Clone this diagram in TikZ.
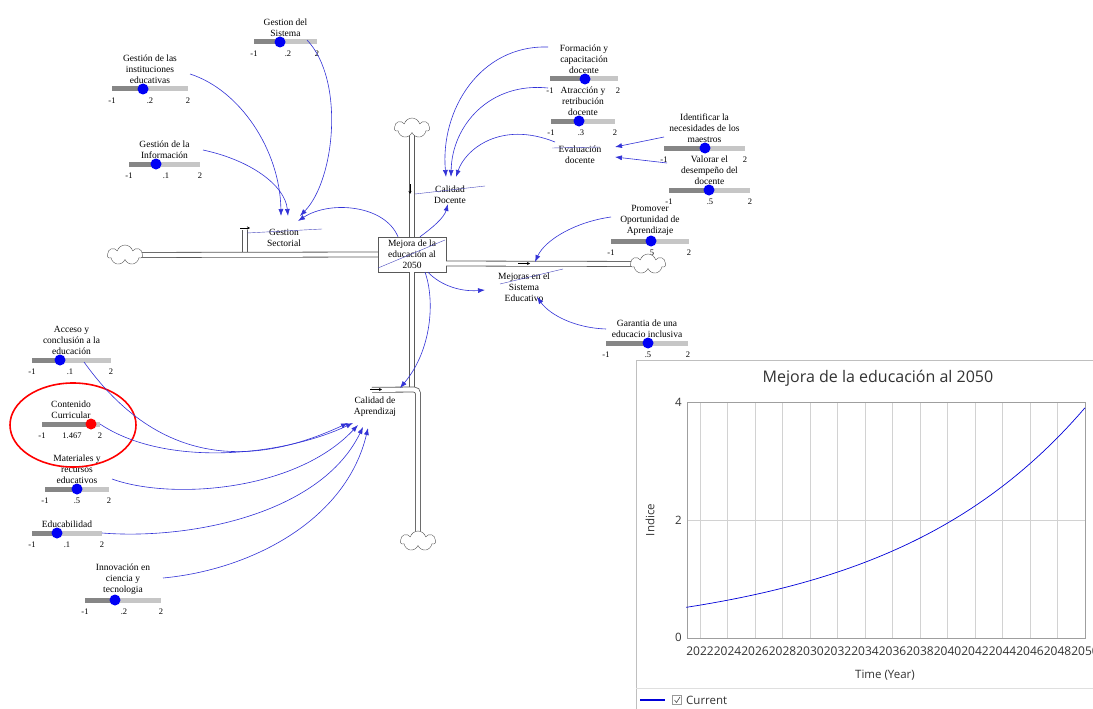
\documentclass[tikz,border=0pt]{standalone}
\usepackage{fontspec}
\setmainfont{Liberation Serif}
\newfontfamily\chartfont{Open Sans}
\usetikzlibrary{arrows.meta,shapes.symbols}
\definecolor{linkblue}{RGB}{50,50,215}
\definecolor{knobblue}{RGB}{0,0,245}
\def\vcloud{node[cloud, cloud puffs=7, aspect=1.8, draw=gray!70!black, fill=white, minimum width=35pt, minimum height=20pt, inner sep=0pt]}
\tikzset{
  vtext/.style={font=\fontsize{9.5}{11}\selectfont, align=center, inner sep=0pt},
  tick/.style={font=\fontsize{8.5}{10}\selectfont, inner sep=0pt},
  knob/.style={circle, inner sep=0pt, minimum size=11pt},
  pipe/.style={draw=gray!70!black, line width=0.8pt, double=white, double distance=4.2pt},
  link/.style={draw=linkblue, line width=0.6pt, -{Latex[length=7pt,width=5pt]}},
  valveline/.style={draw=linkblue!70!gray, line width=0.4pt},
  charttext/.style={font=\chartfont\fontsize{11.5}{13}\selectfont, inner sep=0pt, text=black!80}
}
\begin{document}
\begin{tikzpicture}[x=1pt, y=-1pt]
        \useasboundingbox[fill=white] (0,0) rectangle (1093,709);
        \foreach \n/\xa/\xb/\yy/\kx/\kc/\mv/\mx/\ttl in {
          gsis/254/317/42/280/knobblue/.2/288/{Gestion del\\Sistema},
          ginst/112/188/89/143/knobblue/.2/150/{Gestión de las\\instituciones\\educativas},
          ginf/129/200/164/156/knobblue/.1/166/{Gestión de la\\Información},
          form/550/618/79/585/knobblue/{}/584/{Formación y\\capacitación\\docente},
          atra/551/615/121/579/knobblue/.3/581/{Atracción y\\retribución\\docente},
          iden/664/745/148/705/knobblue/{}/705/{Identificar la\\necesidades de los\\maestros},
          valo/669/750/190/709/knobblue/.5/710/{Valorar el\\desempeño del\\docente},
          prom/611/689/241/651/knobblue/.5/651/{Promover\\Oportunidad de\\Aprendizaje},
          gara/606/688/343/648/knobblue/.5/648/{Garantia de una\\educacio inclusiva},
          acce/32/111/360/60/knobblue/.1/70/{Acceso y\\conclusión a la\\educación},
          cont/42/100/424/91/red/1.467/72/{Contenido\\Curricular},
          mate/45/109/489/77/knobblue/.5/77/{Materiales y\\recursos\\educativos},
          educ/32/102/533/57/knobblue/.1/67/{Educabilidad},
          inno/85/161/600/115/knobblue/.2/124/{Innovación en\\ciencia y\\tecnologia}}{
          \draw[line width=5pt, draw=gray!95] (\xa,\yy) coordinate (\n-L) -- (\kx,\yy);
          \draw[line width=5pt, draw=gray!45] (\kx,\yy) -- (\xb,\yy) coordinate (\n-R);
          \node[knob, fill=\kc] (\n-k) at (\kx,\yy) {};
          \node[vtext, anchor=south] (t-\n) at ({(\xa+\xb)/2},\yy-5) {\ttl};
          \node[tick] (\n-lo) at (\xa,\yy+12) {-1};
          \node[tick] (\n-mid) at (\mx,\yy+12) {\mv};
          \node[tick] (\n-hi) at (\xb,\yy+12) {2};
        }
        \draw[red, line width=1.6pt] (73,425) ellipse [x radius=63pt, y radius=42pt];

        % stock, flows and clouds
        \node[vtext, draw=gray!70!black, fill=white, minimum width=68pt, minimum height=35pt, inner sep=1pt] (mej) at (412,254.5) {Mejora de la\\educación al\\2050};
        \coordinate (gs-v) at (245,230);
        \coordinate (cda-v) at (372,389.8);
        \coordinate (cda-top) at (412,389.5);
        \coordinate (cL) at (125,255);
        \coordinate (cT) at (412,128);
        \coordinate (cR) at (648,264);
        \coordinate (cB) at (418,541);
        \draw[pipe] (gs-v) -- (245,254.5);
        \draw[pipe] (mej.south) -- (cda-top);
        \draw[pipe] (cL) -- (mej.west);
        \draw[pipe] (cT) -- (mej.north);
        \draw[pipe] (cR) -- ([yshift=-9pt]mej.east);
        \draw[pipe, rounded corners=4pt] (cda-v) -- (418,389.5) -- (cB);
        \draw (cL) \vcloud (cloudL) {};
        \draw (cT) \vcloud (cloudT) {};
        \draw (cR) \vcloud (cloudR) {};
        \draw (cB) \vcloud (cloudB) {};
        \draw[line width=0.5pt, -{Stealth[length=3pt,width=3pt]}] (240,228) -- (250,228);
        \draw[line width=0.5pt, -{Stealth[length=3pt,width=3pt]}] (410,184) -- (410,194);
        \draw[line width=0.5pt, -{Stealth[length=3pt,width=3pt]}] (518,263.5) -- (530,263.5);
        \draw[line width=0.5pt, -{Stealth[length=3pt,width=3pt]}] (370,389.5) -- (382,389.5);

        \node[vtext] (gsec) at (284,238) {Gestion\\Sectorial};
        \node[vtext] (cdoc) at (450,195) {Calidad\\Docente};
        \node[vtext] (eval) at (580,155) {Evaluación\\docente};
        \node[vtext] (mse) at (524,287) {Mejoras en el\\Sistema\\Educativo};
        \node[vtext] (cda) at (375,407) {Calidad de\\Aprendizaj};

        \draw[valveline] (247,233) -- (322,229);
        \draw[valveline] (415,194) -- (485,186);
        \draw[valveline] (552,148) -- (600,147);
        \draw[valveline] (500,284) -- (563,269);
        \draw[valveline] (378,268) -- (445,240);

        % connectors
        \draw[link] ([xshift=2pt,yshift=15pt]ginst-R) .. controls (240,90) and (280,150) .. ([xshift=-3pt,yshift=22pt]gsec.center);
        \draw[link] ([xshift=3pt,yshift=14pt]ginf-R) .. controls (250,160) and (285,185) .. ([xshift=4pt,yshift=22pt]gsec.center);
        \draw[link] ([xshift=-10pt,yshift=2pt]gsis-R) .. controls (345,80) and (335,180) .. ([xshift=16pt,yshift=22pt]gsec.center);
        \draw[link] ([xshift=-14pt]mej.north) .. controls (385,205) and (330,200) .. ([xshift=14pt,yshift=17pt]gsec.center);
        \draw[link] ([xshift=-2pt,yshift=32pt]form-L) .. controls (480,45) and (440,110) .. ([xshift=-4pt,yshift=18pt]cdoc.center);
        \draw[link] ([xshift=-3pt,yshift=33pt]atra-L) .. controls (490,82) and (452,125) .. ([xshift=1pt,yshift=18pt]cdoc.center);
        \draw[link] ([xshift=-25pt,yshift=13pt]eval.center) .. controls (500,120) and (465,150) .. ([xshift=6pt,yshift=18pt]cdoc.center);
        \draw[link] ([xshift=8pt]mej.north) .. controls (432,228) and (444,218) .. ([xshift=-2pt,yshift=-9pt]cdoc.center);
        \draw[link] ([yshift=11pt]iden-L) -- ([xshift=35pt,yshift=8pt]eval.center);
        \draw[link] ([xshift=-2pt,yshift=27pt]valo-L) -- ([xshift=35pt,yshift=-2pt]eval.center);
        \draw[link] ([yshift=24pt]prom-L) .. controls (575,222) and (545,240) .. ([xshift=11pt,yshift=25pt]mse.center);
        \draw[link] ([yshift=14pt]gara-L) .. controls (575,328) and (550,315) .. ([xshift=13pt,yshift=-10pt]mse.center);
        \draw[link] ([xshift=16pt]mej.south) .. controls (440,285) and (460,292) .. ([xshift=-39pt,yshift=-3pt]mse.center);
        \draw[link] ([xshift=-27pt,yshift=-2pt]acce-R) .. controls (167,478) and (268,460) .. ([xshift=-27pt,yshift=-16pt]cda.center);
        \draw[link] (cont-R) .. controls (166,468) and (283,456) .. ([xshift=-22pt,yshift=-16pt]cda.center);
        \draw[link] ([xshift=3pt,yshift=10pt]mate-R) .. controls (170,500) and (295,492) .. ([xshift=-17pt,yshift=-18pt]cda.center);
        \draw[link] (educ-R) .. controls (190,540) and (321,514) .. ([xshift=-12pt,yshift=-20pt]cda.center);
        \draw[link] ([xshift=2pt,yshift=22pt]inno-R) .. controls (250,570) and (346,521) .. ([xshift=-7pt,yshift=-21pt]cda.center);
        \draw[link] ([xshift=13pt]mej.south) .. controls (435,300) and (432,350) .. ([xshift=25pt,yshift=19pt]cda.center);

        % graph panel
        \fill[white] (636,360) rectangle (1093,709);
        \draw[gray!50] (636,709) -- (636,360) -- (1093,360);
        \draw[gray!25] (636,688) -- (1093,688);
        \foreach \yr in {2022,2024,...,2048}{
          \draw[gray!35] ({686.25+(\yr-2021)*13.75},402) -- ++(0,236);
        }
        \foreach \yr in {2022,2024,...,2050}{
          \node[charttext, font=\chartfont\fontsize{12}{13}\selectfont] (yr\yr) at ({686.25+(\yr-2021)*13.75},651) {\yr};
        }
        \draw[gray!35] (687,520) -- (1085,520);
        \draw[gray!75] (687,402) rectangle (1085,638);
        \node[charttext, anchor=east] (v4) at (682,402) {4};
        \node[charttext, anchor=east] (v2) at (682,520) {2};
        \node[charttext, anchor=east] (v0) at (682,637) {0};
        \draw[blue!85!black, line width=0.7pt] plot[domain=2021:2050, samples=80, smooth] ({686.25+(\x-2021)*13.75},{638-59*0.52*exp(0.0695*(\x-2021))});
        \node[charttext, font=\chartfont\fontsize{16}{18}\selectfont] (ttl) at (878,378) {Mejora de la educación al 2050};
        \node[charttext, rotate=90] (ylab) at (650,520) {Indice};
        \node[charttext] (xlab) at (885,675) {Time (Year)};
        \draw[blue!85!black, line width=1.2pt] (640,700) -- (665,700);
        \draw[gray!80] (672.5,695.5) rectangle (681.5,704.5);
        \draw[black!70, line width=0.6pt] (674.5,700) -- (676.5,702.5) -- (680,697);
        \node[charttext, anchor=west] (cur) at (686,700) {Current};
\end{tikzpicture}
\end{document}
